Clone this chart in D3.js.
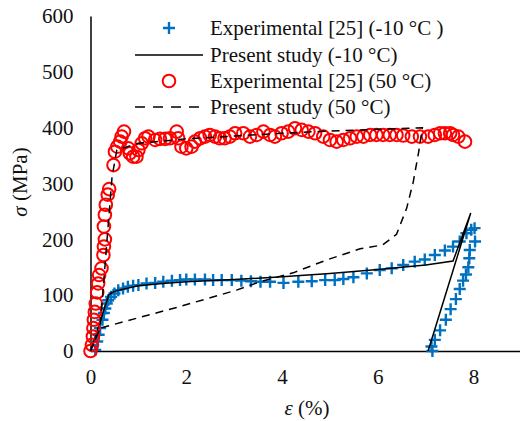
<!DOCTYPE html>
<html><head><meta charset="utf-8">
<script src="https://cdn.jsdelivr.net/npm/d3@7"></script>
<style>
html,body{margin:0;padding:0;background:#fff;}
svg{display:block;}
svg text{font-family:"Liberation Serif","Times New Roman",serif;}
</style></head>
<body>
<svg id="c" width="520" height="421"></svg>
<script>
// ---- data ----
const xTicks = [0, 2, 4, 6, 8];
const yTicks = [0, 100, 200, 300, 400, 500, 600];
const legendLabels = ["Experimental [25] (-10 °C )", "Present study (-10 °C)", "Experimental [25] (50 °C)", "Present study (50 °C)"];

// Experimental -10 °C (strain %, stress MPa)
const expColdStrain = [0.10,0.14,0.17,0.20,0.25,0.28,0.31,0.34,0.37,0.43,0.50,0.58,0.68,0.78,0.89,1.00,1.17,1.35,1.52,1.70,1.87,2.00,2.18,2.39,2.56,2.74,2.95,3.15,3.35,3.55,3.75,4.03,4.34,4.62,4.90,5.10,5.28,5.49,5.77,6.04,6.29,6.53,6.77,6.98,7.19,7.40,7.57,7.71,7.85,7.95,8.02,8.03,7.92,7.91,7.89,7.84,7.78,7.71,7.63,7.52,7.42,7.30,7.19,7.12,7.14];
const expColdStress = [2,17,29,41,56,68,76,85,91,97,103,109,112,115,117,118,121,122,124,126,127,128,128,128,127,127,127,126,125,124,124,122,124,125,127,127,129,132,139,145,148,154,160,164,172,180,187,196,211,217,220,196,181,166,150,137,126,111,93,75,56,37,20,8,0];

// Present study -10 °C
const modColdStrain = [0,0.38,0.45,0.60,1.00,1.50,2.00,3.00,4.00,5.00,6.00,7.00,7.57,7.94,7.05];
const modColdStress = [0,100,105,109,117,121,124,128,133,139,146,154,161,247,0];

// Experimental 50 °C
const expHotStrain = [0,0.03,0.05,0.06,0.07,0.09,0.11,0.14,0.16,0.18,0.23,0.27,0.28,0.30,0.28,0.30,0.32,0.36,0.39,0.48,0.51,0.56,0.62,0.65,0.70,0.79,0.82,0.89,0.96,1.00,1.07,1.14,1.21,1.35,1.45,1.56,1.66,1.80,1.83,1.90,2.00,2.11,2.18,2.29,2.39,2.49,2.60,2.70,2.80,2.91,3.02,3.19,3.33,3.47,3.61,3.75,3.85,3.99,4.13,4.27,4.41,4.55,4.69,4.86,5.00,5.14,5.28,5.42,5.56,5.70,5.84,5.97,6.11,6.25,6.39,6.53,6.71,6.88,7.05,7.19,7.30,7.40,7.51,7.57,7.68,7.82];
const expHotStress = [0,11,26,41,56,70,85,105,121,136,148,172,187,200,223,244,262,280,290,333,357,366,375,384,393,363,354,348,348,360,372,381,384,378,380,380,381,393,381,366,363,366,375,381,384,387,384,381,381,384,390,390,384,387,393,387,384,390,393,399,396,393,390,384,378,375,378,381,384,384,387,387,387,387,387,386,384,384,384,387,390,390,390,387,384,375];

// Present study 50 °C
const modHotStrain = [0,0.20,0.30,0.45,0.55,1.00,2.00,3.00,4.00,5.00,6.00,6.93,6.85,6.74,6.60,6.39,6.10,5.63,4.93,4.23,3.54,3.05,1.80,0.20,0];
const modHotStress = [0,41,150,312,360,372,380,385,390,394,397,400,355,303,255,209,190,183,163,140,124,109,78,41,0];

// ---- drawing ----
const svg = d3.select("#c");
const x = d3.scaleLinear().domain([0, 9]).range([90.5, 521.5]);
const y = d3.scaleLinear().domain([0, 600]).range([351, 16]);

const blue = "#0070C0", red = "#FF0000", ink = "#111";
const FONT = "'Liberation Serif', 'Times New Roman', serif";

// axes
const gx = svg.append("g").attr("transform", "translate(0,351)")
  .call(d3.axisBottom(x).tickValues(xTicks).tickSize(0).tickPadding(18).tickFormat(d3.format("d")));
const gy = svg.append("g").attr("transform", "translate(90.5,0)")
  .call(d3.axisLeft(y).tickValues(yTicks).tickSize(0).tickPadding(17).tickFormat(d3.format("d")));
[gx, gy].forEach(g => {
  g.attr("font-family", null).attr("font-size", null);
  g.select(".domain").attr("stroke", "#000").attr("stroke-width", 1.5);
  g.selectAll("text").style("font-family", FONT).style("font-size", "21px").attr("fill", ink);
});

// axis titles
const xt = svg.append("text").attr("x", 307).attr("y", 415).attr("text-anchor", "middle")
  .style("font-family", FONT).style("font-size", "21px").attr("fill", ink);
xt.append("tspan").attr("font-style", "italic").text("ε");
xt.append("tspan").text(" (%)");
const yt = svg.append("text").attr("transform", "translate(27,182) rotate(-90)").attr("text-anchor", "middle")
  .style("font-family", FONT).style("font-size", "21px").attr("fill", ink);
yt.append("tspan").attr("font-style", "italic").text("σ");
yt.append("tspan").text(" (MPa)");

function plusPath(cx, cy, s) {
  return `M${cx - s},${cy}H${cx + s}M${cx},${cy - s}V${cy + s}`;
}

// series 1: crosses
const coldPts = expColdStrain.map((e, i) => [e, expColdStress[i]]);
svg.append("g").selectAll("path").data(coldPts).join("path")
  .attr("d", d => plusPath(x(d[0]), y(d[1]), 6))
  .attr("stroke", blue).attr("stroke-width", 2.4).attr("fill", "none");

// series 2: solid line
const line = d3.line().x(d => x(d[0])).y(d => y(d[1]));
const coldModel = modColdStrain.map((e, i) => [e, modColdStress[i]]);
svg.append("path").attr("d", line(coldModel)).attr("fill", "none")
  .attr("stroke", "#000").attr("stroke-width", 1.5);

// series 3: circles
const hotPts = expHotStrain.map((e, i) => [e, expHotStress[i]]);
svg.append("g").selectAll("circle").data(hotPts).join("circle")
  .attr("cx", d => x(d[0])).attr("cy", d => y(d[1])).attr("r", 6.3)
  .attr("fill", "none").attr("stroke", red).attr("stroke-width", 2);

// series 4: dashed line
const hotModel = modHotStrain.map((e, i) => [e, modHotStress[i]]);
svg.append("path").attr("d", line(hotModel)).attr("fill", "none")
  .attr("stroke", "#000").attr("stroke-width", 1.5).attr("stroke-dasharray", "8,6");

// legend
const lg = svg.append("g");
const rows = [28, 55, 81, 107];
legendLabels.forEach((t, i) => {
  const yy = rows[i];
  if (i === 0) lg.append("path").attr("d", plusPath(169, yy, 6)).attr("stroke", blue).attr("stroke-width", 2.4);
  if (i === 1) lg.append("line").attr("x1", 135).attr("x2", 203).attr("y1", yy).attr("y2", yy).attr("stroke", "#000").attr("stroke-width", 1.5);
  if (i === 2) lg.append("circle").attr("cx", 169).attr("cy", yy).attr("r", 6.3).attr("fill", "none").attr("stroke", red).attr("stroke-width", 2);
  if (i === 3) lg.append("line").attr("x1", 135).attr("x2", 203).attr("y1", yy).attr("y2", yy).attr("stroke", "#000").attr("stroke-width", 1.5).attr("stroke-dasharray", "10,8");
  lg.append("text").attr("x", 210).attr("y", yy + 7).style("font-family", FONT).style("font-size", "21px").attr("fill", ink).text(t);
});
</script>
</body></html>
